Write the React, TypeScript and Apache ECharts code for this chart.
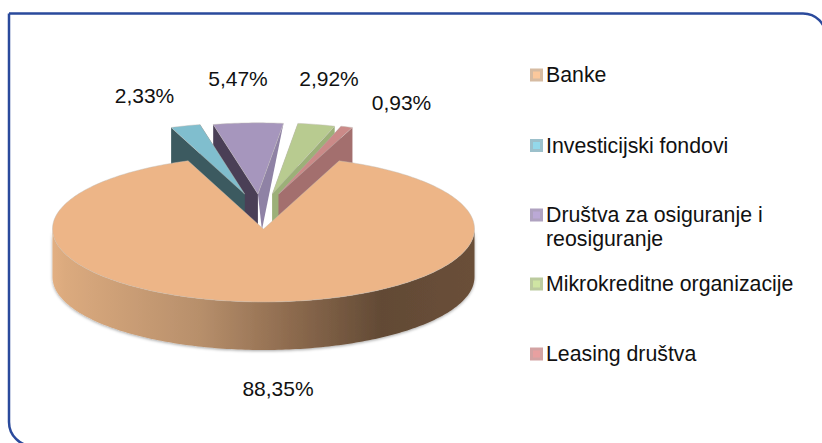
import React, { useEffect, useRef } from "react";
import * as echarts from "echarts";

const categories = ["Banke", "Investicijski fondovi", "Društva za osiguranje i\nreosiguranje", "Mikrokreditne organizacije", "Leasing društva"];
const values = [88.35, 2.33, 5.47, 2.92, 0.93];

const topColors = ["#EDB587", "#80BECE", "#A696BD", "#B8CB90", "#CB8A88"];
const leftWallColors = ["#EDB587", "#3C5A60", "#4A3F56", "#9CB078", "#A36F6E"];
const rightWallColors = ["#EDB587", "#3C5A60", "#8F82A5", "#9CB078", "#A36F6E"];
const legendFill = ["#FBC89C", "#93D8EA", "#BBA9D6", "#CFE5A3", "#E8A0A0"];
const legendEdge = ["#D6BBA2", "#9CC0CB", "#AFA2C0", "#BCCB9F", "#D3A3A3"];
const legendY = [75, 145.5, 215, 284, 354];
const legendTextY = [75, 145.5, 227, 284, 354];
const labelPos = [[278, 388], [144.5, 95], [238, 78], [329, 78], [401.5, 102]];
const drawOrder = [5, 2, 1, 3, 4];
const outerRightWall = [48, 48, 0, 48, 38];

const FONT = '"Liberation Sans", Arial, sans-serif';
const START = 21;
const CX = 263.5, CY = 229, RX = 211, RY = 73, DEPTH = 48;
const EX = 55, EY = 35, SMALL = 0.975, SHIFT = 3;

const rad = (d: number) => (d * Math.PI) / 180;

function sliceAngles(i: number) {
  const total = values.reduce((a, b) => a + b, 0);
  let a = START;
  for (let k = 0; k < i; k++) a += (values[k] / total) * 360;
  return [a, a + (values[i] / total) * 360];
}

function renderItem(_params: any, api: any) {
  const i = api.value(0) as number;
  const [a0, a1] = sliceAngles(i);
  const mid = (a0 + a1) / 2;
  const big = i === 0;
  const ox = big ? CX : CX - SHIFT + EX * Math.sin(rad(mid));
  const oy = big ? CY : CY - EY;
  const rx = big ? RX : RX * SMALL;
  const ry = big ? RY : RY * SMALL;
  const at = (d: number) => [ox + rx * Math.sin(rad(d)), oy - ry * Math.cos(rad(d))];

  const arc: number[][] = [];
  for (let d = a0; d < a1; d += 1) arc.push(at(d));
  arc.push(at(a1));

  const z = drawOrder[i] * 10;
  const children: any[] = [];

  if (big) {
    const pts: number[][] = [];
    for (let d = 90; d <= 270; d += 1) pts.push(at(d));
    const back = pts.slice().reverse().map((p) => [p[0], p[1] + DEPTH]);
    children.push({
      type: "polygon",
      z2: z,
      shape: { points: pts.concat(back) },
      style: {
        fill: new echarts.graphic.LinearGradient(0, 0, 1, 0, [
          { offset: 0, color: "#E2AF82" },
          { offset: 0.03, color: "#DBAA7E" },
          { offset: 0.35, color: "#B78F6B" },
          { offset: 0.55, color: "#906D50" },
          { offset: 0.78, color: "#624A35" },
          { offset: 1, color: "#6A4F39" },
        ]),
        shadowBlur: 3,
        shadowColor: "rgba(0,0,0,0.35)",
        shadowOffsetY: 1,
      },
    });
  } else {
    const p0 = at(a0), p1 = at(a1);
    children.push({
      type: "polygon",
      z2: z,
      shape: { points: [p0, [ox, oy], [ox, oy + DEPTH - 12], [p0[0], p0[1] + DEPTH]] },
      style: { fill: leftWallColors[i] },
    });
    children.push({
      type: "polygon",
      z2: z + 1,
      shape: { points: [p1, [ox, oy], [ox + (outerRightWall[i] ? 0 : 4), oy + DEPTH - 12], [p1[0], p1[1] + outerRightWall[i]]] },
      style: { fill: rightWallColors[i] },
    });
  }
  children.push({
    type: "polygon",
    z2: z + 2,
    shape: { points: [[ox, oy], ...arc] },
    style: { fill: topColors[i], stroke: "rgba(190,185,180,0.55)", lineWidth: 0.8 },
  });
  children.push({
    type: "text",
    z2: 100,
    style: {
      x: labelPos[i][0],
      y: labelPos[i][1],
      text: values[i].toFixed(2).replace(".", ",") + "%",
      align: "center",
      verticalAlign: "middle",
      font: `21px ${FONT}`,
      fill: "#111111",
    },
  });
  return { type: "group", children };
}

export default function App() {
  const ref = useRef<HTMLDivElement>(null);
  useEffect(() => {
    document.body.style.margin = "0";
    const chart = echarts.init(ref.current!, undefined, { renderer: "svg" });
    const legend: any[] = [];
    categories.forEach((name, i) => {
      legend.push({
        type: "rect",
        shape: { x: 531.5, y: legendY[i] - 5, width: 10, height: 10 },
        style: { fill: legendFill[i], stroke: legendEdge[i], lineWidth: 3 },
      });
      legend.push({
        type: "text",
        style: {
          x: 546,
          y: legendTextY[i],
          text: name,
          font: `21.3px ${FONT}`,
          lineHeight: 24,
          fill: "#111111",
          align: "left",
          verticalAlign: "middle",
        },
      });
    });
    chart.setOption({
      animation: false,
      backgroundColor: "#ffffff",
      graphic: [
        {
          type: "rect",
          z: -1,
          shape: { x: 9, y: 13.5, width: 817, height: 432.5, r: [0, 23, 0, 24] },
          style: { fill: "none", stroke: "#2A4A9C", lineWidth: 2.5 },
        },
        ...legend,
      ],
      series: [
        {
          type: "custom",
          coordinateSystem: "none",
          data: values.map((v, i) => [i, v]),
          renderItem,
        },
      ],
    });
    return () => chart.dispose();
  }, []);
  return <div ref={ref} style={{ width: 822, height: 443 }} />;
}
